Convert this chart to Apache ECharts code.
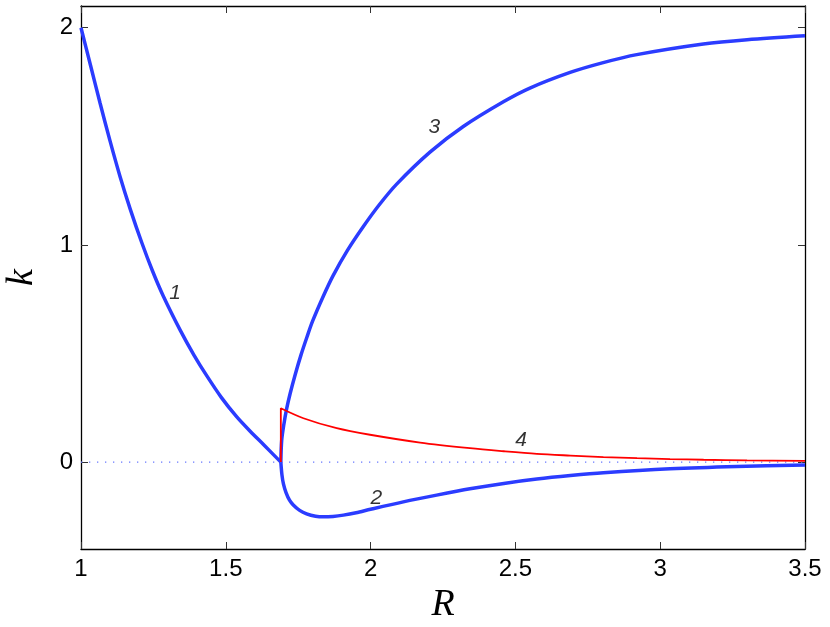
<!DOCTYPE html>
<html>
<head>
<meta charset="utf-8">
<script src="https://cdn.jsdelivr.net/npm/echarts@6/dist/echarts.min.js"></script>
<style>html,body{margin:0;padding:0;background:#fff}#c{width:830px;height:627px}</style>
</head>
<body>
<div id="c"></div>
<script>
var xTicks = [1, 1.5, 2, 2.5, 3, 3.5];
var yTicks = [0, 1, 2];
var curve1 = [[1,2.0],[1.033,1.826],[1.066,1.652],[1.10,1.48],[1.135,1.314],[1.17,1.165],[1.21,1.01],[1.247,0.88],[1.284,0.765],[1.342,0.609],[1.39,0.493],[1.434,0.398],[1.485,0.297],[1.538,0.208],[1.585,0.141],[1.63,0.081],[1.69,0.0]];
var curve2 = [[1.69,0.0],[1.694,-0.06],[1.699,-0.10],[1.708,-0.14],[1.72,-0.175],[1.733,-0.197],[1.755,-0.222],[1.779,-0.238],[1.81,-0.249],[1.837,-0.252],[1.87,-0.250],[1.906,-0.244],[1.95,-0.233],[2.0,-0.217],[2.113,-0.183],[2.228,-0.152],[2.343,-0.123],[2.46,-0.098],[2.574,-0.078],[2.69,-0.062],[2.804,-0.049],[3.034,-0.031],[3.264,-0.020],[3.5,-0.013]];
var curve3 = [[1.69,0.0],[1.693,0.10],[1.70,0.17],[1.71,0.245],[1.722,0.315],[1.74,0.405],[1.76,0.495],[1.78,0.575],[1.80,0.65],[1.837,0.765],[1.871,0.86],[1.92,0.975],[1.975,1.085],[2.03,1.185],[2.09,1.28],[2.205,1.427],[2.32,1.545],[2.46,1.66],[2.55,1.722],[2.689,1.794],[2.8,1.838],[2.919,1.876],[3.149,1.925],[3.3,1.945],[3.5,1.963]];
var curve4 = [[1.69,0.0],[1.69,0.248],[1.768,0.202],[1.883,0.156],[1.998,0.126],[2.171,0.090],[2.343,0.064],[2.46,0.050],[2.574,0.038],[2.69,0.030],[2.804,0.023],[2.92,0.018],[3.034,0.014],[3.15,0.011],[3.3,0.008],[3.5,0.006]];
var zeroLine = [[1,0],[3.5,0]];
var curveLabels = [{name:'1', value:[1.325,0.78]},{name:'2', value:[2.02,-0.165]},{name:'3', value:[2.22,1.54]},{name:'4', value:[2.52,0.1]}];

var blue = '#2b3cff';
var tickFont = {fontFamily:'Liberation Sans, Arial, sans-serif', fontSize:24, color:'#000'};
var nameFont = {fontFamily:'Liberation Serif, Times New Roman, serif', fontStyle:'italic', fontSize:38, color:'#000'};
var chart = echarts.init(document.getElementById('c'));
chart.setOption({
  animation:false,
  grid:{left:81, right:25, top:6, bottom:78, outerBoundsMode:'none', containLabel:false},
  xAxis:[{
    type:'value', min:1, max:3.5, interval:0.5,
    axisLine:{onZero:false, lineStyle:{color:'#000', width:1.3}},
    axisTick:{inside:true, length:7, lineStyle:{color:'#333'}},
    axisLabel:Object.assign({margin:8, formatter:function(v){return String(+v.toFixed(2));}}, tickFont),
    splitLine:{show:false},
    name:'R', nameLocation:'middle', nameGap:34, nameTextStyle:nameFont
  },{
    type:'value', position:'top', min:1, max:3.5, interval:0.5,
    axisLine:{show:true, onZero:false, lineStyle:{color:'#000', width:1.3}},
    axisTick:{inside:true, length:7, lineStyle:{color:'#333'}},
    axisLabel:{show:false}, splitLine:{show:false}
  }],
  yAxis:[{
    type:'value', min:-0.4, max:2.1, interval:1,
    axisLine:{onZero:false, lineStyle:{color:'#000', width:1.3}},
    axisTick:{inside:true, length:7, lineStyle:{color:'#333'}, customValues:yTicks},
    axisLabel:Object.assign({margin:8, customValues:yTicks}, tickFont),
    splitLine:{show:false},
    name:'k', nameLocation:'middle', nameGap:40, nameTextStyle:nameFont
  },{
    type:'value', position:'right', min:-0.4, max:2.1, interval:1,
    axisLine:{show:true, onZero:false, lineStyle:{color:'#000', width:1.3}},
    axisTick:{inside:true, length:7, lineStyle:{color:'#333'}, customValues:yTicks},
    axisLabel:{show:false}, splitLine:{show:false}
  }],
  series:[
    {type:'line', data:zeroLine, symbol:'none', lineStyle:{color:'#6878ff', width:1.3, type:[1.3,6.7]}, z:1},
    {type:'line', data:curve1, symbol:'none', smooth:0.3, lineStyle:{color:blue, width:3.5}},
    {type:'line', data:curve2, symbol:'none', smooth:0.3, lineStyle:{color:blue, width:3.5}},
    {type:'line', data:curve3, symbol:'none', smooth:0.3, lineStyle:{color:blue, width:3.5}},
    {type:'line', data:curve4, symbol:'none', smooth:0.3, lineStyle:{color:'#ff0000', width:1.8}},
    {type:'scatter', data:curveLabels, symbolSize:0, silent:true,
      label:{show:true, position:'inside', formatter:'{b}', fontFamily:'Liberation Sans, Arial, sans-serif', fontStyle:'italic', fontSize:21, color:'#000'}}
  ]
});
</script>
</body>
</html>
